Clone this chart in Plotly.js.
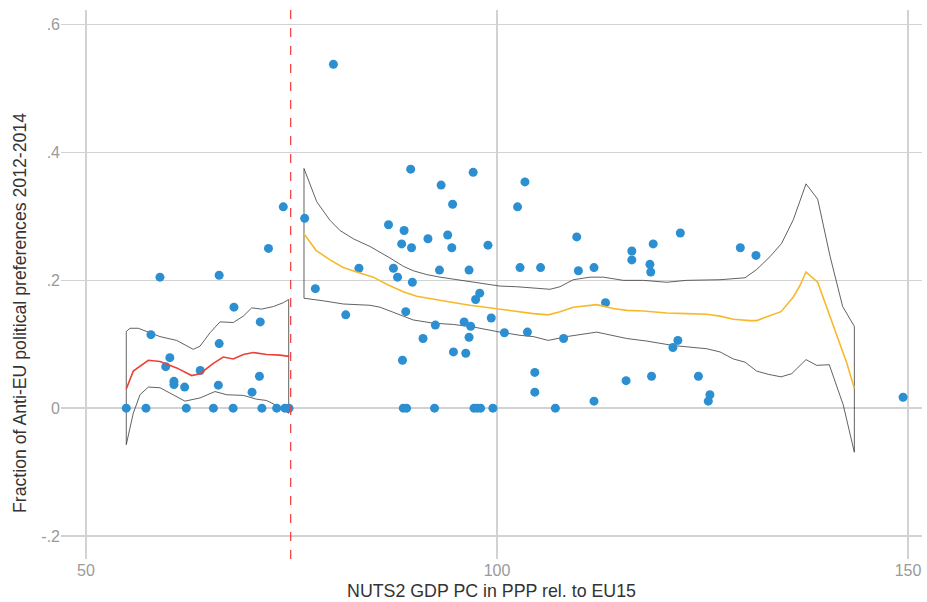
<!DOCTYPE html>
<html>
<head>
<meta charset="utf-8">
<script src="https://cdn.plot.ly/plotly-3.0.1.min.js"></script>
<style>html,body{margin:0;padding:0;background:#fff;}#chart{width:927px;height:602px;}</style>
</head>
<body>
<div id="chart"></div>
<script>
// Scatter points: GDP per capita (x) vs anti-EU fraction (y)
const gdpX = [54.9,57.3,59.0,57.9,60.2,59.7,60.7,60.7,62.0,62.2,63.9,65.5,66.2,66.2,66.1,68.0,67.9,71.2,71.1,70.2,71.4,72.2,74.0,73.2,74.2,74.7,
  76.6,80.1,77.9,81.6,83.2,89.5,97.1,93.2,94.6,86.8,88.7,88.4,89.6,91.6,94.0,94.5,98.9,87.4,87.9,89.7,93.0,96.6,97.9,97.4,88.9,92.5,96.0,96.8,99.3,100.9,91.0,96.6,94.7,96.2,88.5,
  88.6,89.0,92.4,97.2,97.6,98.0,99.5,
  103.4,102.5,109.7,122.3,119.0,116.4,116.4,118.6,118.7,102.8,105.3,109.9,111.8,113.2,103.7,108.1,122.0,121.4,104.6,104.6,107.1,111.8,115.7,118.8,124.5,125.9,125.7,
  129.6,131.5,149.4];
const antiEU = [0,0,0.205,0.115,0.079,0.065,0.042,0.037,0.033,0,0.059,0,0.208,0.101,0.036,0.158,0,0.135,0.050,0.025,0,0.250,0.315,0,0,0,
  0.297,0.538,0.187,0.146,0.219,0.374,0.369,0.349,0.319,0.287,0.278,0.257,0.251,0.265,0.271,0.251,0.255,0.219,0.205,0.197,0.216,0.216,0.180,0.170,0.151,0.130,0.135,0.128,0.141,0.118,0.109,0.111,0.088,0.086,0.075,
  0,0,0,0,0,0,0,
  0.354,0.315,0.268,0.274,0.257,0.246,0.232,0.225,0.213,0.220,0.220,0.215,0.220,0.165,0.119,0.109,0.106,0.095,0.056,0.025,0,0.011,0.043,0.050,0.050,0.021,0.011,
  0.251,0.239,0.017];

// Left-of-cutoff local fit (red) and its confidence band
const leftFitX = [54.90,55.75,57.58,59.00,61.03,62.86,63.87,65.49,66.70,67.92,69.14,70.36,71.98,73.60,74.73];
const leftFitY = [0.030,0.058,0.075,0.073,0.063,0.051,0.054,0.070,0.080,0.077,0.084,0.087,0.084,0.083,0.081];
const leftHiX = [54.90,55.35,56.36,57.38,59.00,61.03,62.25,63.05,63.87,65.09,66.30,67.92,69.14,70.16,71.37,72.79,74.00,74.66];
const leftHiY = [0.120,0.125,0.125,0.120,0.112,0.106,0.097,0.092,0.097,0.118,0.135,0.134,0.144,0.157,0.155,0.159,0.165,0.170];
const leftLoX = [54.90,55.75,56.57,57.58,59.00,60.62,62.04,63.87,65.69,67.12,69.14,70.77,71.98,73.20,74.66];
const leftLoY = [-0.057,-0.008,0.021,0.033,0.032,0.021,0.011,0.016,0.026,0.021,0.020,0.014,0.012,0.004,-0.008];

// Right-of-cutoff local fit (orange) and its confidence band
const rightFitX = [76.52,77.98,79.68,81.30,82.93,84.95,86.58,88.60,90.23,92.25,94.28,96.72,99.15,101.58,102.80,104.42,106.24,107.66,109.28,112.13,114.15,115.78,117.80,120.65,123.07,125.51,127.13,128.75,130.78,131.59,132.81,134.55,136.05,136.86,137.59,139.01,140.30,141.52,142.54,143.47];
const rightFitY = [0.273,0.247,0.232,0.220,0.213,0.205,0.194,0.182,0.175,0.170,0.166,0.161,0.157,0.152,0.150,0.148,0.146,0.151,0.158,0.162,0.156,0.153,0.152,0.149,0.148,0.147,0.144,0.139,0.137,0.137,0.143,0.151,0.174,0.192,0.213,0.197,0.151,0.107,0.071,0.031];
const rightHiX = [76.52,77.25,78.07,79.68,80.90,82.52,84.55,86.98,88.60,89.82,91.45,93.07,95.10,97.53,99.15,100.36,102.40,104.83,106.45,107.66,109.28,111.31,112.93,115.36,117.80,120.65,123.07,127.13,130.17,131.59,133.21,134.63,136.05,137.59,139.01,140.51,142.05,143.47];
const rightHiY = [0.375,0.349,0.323,0.294,0.278,0.265,0.253,0.235,0.222,0.215,0.209,0.205,0.201,0.196,0.193,0.191,0.190,0.187,0.186,0.190,0.201,0.205,0.205,0.200,0.200,0.197,0.200,0.201,0.204,0.217,0.237,0.258,0.295,0.351,0.327,0.238,0.159,0.128];
const rightLoX = [76.52,78.87,81.30,84.55,85.77,87.80,89.82,92.25,94.69,97.12,99.15,100.36,102.80,104.42,106.24,108.48,112.13,113.35,115.78,118.21,121.45,125.51,127.13,128.75,130.17,131.59,133.00,134.55,135.85,137.59,138.89,140.42,142.12,143.47];
const rightLoY = [0.172,0.168,0.163,0.161,0.158,0.148,0.138,0.133,0.131,0.127,0.122,0.119,0.114,0.112,0.106,0.112,0.119,0.115,0.109,0.105,0.098,0.093,0.088,0.077,0.072,0.058,0.053,0.049,0.054,0.076,0.067,0.068,0.005,-0.069];

const cutoff = 74.9;
const xTickVals = [50,100,150];
const xTickText = ['50','100','150'];
const yTickVals = [-0.2,0,0.2,0.4,0.6];
const yTickText = ['-.2','0','.2','.4','.6'];
const xTitle = 'NUTS2 GDP PC in PPP rel. to EU15';
const yTitle = 'Fraction of Anti-EU political preferences 2012-2014';

function band(hx, hy, lx, ly) {
  const x = hx.concat(lx.slice().reverse(), [hx[0]]);
  const y = hy.concat(ly.slice().reverse(), [hy[0]]);
  return {x, y};
}
const lb = band(leftHiX, leftHiY, leftLoX, leftLoY);
const rb = band(rightHiX, rightHiY, rightLoX, rightLoY);

const traces = [
  {x: lb.x, y: lb.y, mode: 'lines', line: {color: '#3a3a3a', width: 0.8}, hoverinfo: 'skip', showlegend: false},
  {x: rb.x, y: rb.y, mode: 'lines', line: {color: '#3a3a3a', width: 0.8}, hoverinfo: 'skip', showlegend: false},
  {x: gdpX, y: antiEU, mode: 'markers', marker: {color: '#2c8fd1', size: 9}, showlegend: false},
  {x: leftFitX, y: leftFitY, mode: 'lines', line: {color: '#ec4137', width: 1.6}, showlegend: false},
  {x: rightFitX, y: rightFitY, mode: 'lines', line: {color: '#f7b92b', width: 1.6}, showlegend: false}
];

const fontFam = '"Liberation Sans", Arial, Helvetica, sans-serif';
const layout = {
  width: 927, height: 602,
  margin: {l: 61, r: 5, t: 10, b: 43},
  paper_bgcolor: '#ffffff', plot_bgcolor: '#ffffff',
  showlegend: false,
  font: {family: fontFam},
  xaxis: {
    range: [46.96, 151.7], tickvals: xTickVals, ticktext: xTickText,
    showgrid: true, gridcolor: '#d2d2d2', gridwidth: 1.5, zeroline: false, showline: false,
    ticks: '', tickfont: {size: 16, color: '#9a9a9a', family: fontFam},
    title: {text: xTitle, font: {size: 17.8, color: '#333333', family: fontFam}, standoff: 6}
  },
  yaxis: {
    range: [-0.236, 0.623], tickvals: yTickVals, ticktext: yTickText,
    showgrid: true, gridcolor: '#d2d2d2', gridwidth: 1.5, zeroline: false, showline: false,
    ticks: '', tickfont: {size: 16, color: '#9a9a9a', family: fontFam}
  },
  annotations: [
    {text: yTitle, xref: 'paper', yref: 'paper', x: -0.0476, y: 0.448, xanchor: 'center', yanchor: 'middle',
     textangle: -90, showarrow: false, font: {size: 17.7, color: '#333333', family: fontFam}}
  ],
  shapes: [
    {type: 'line', xref: 'x', yref: 'paper', x0: cutoff, x1: cutoff, y0: 0, y1: 1,
     line: {color: '#f03a3a', width: 1.2, dash: 'dash'}}
  ]
};
Plotly.newPlot('chart', traces, layout, {displayModeBar: false, staticPlot: true});
</script>
</body>
</html>
